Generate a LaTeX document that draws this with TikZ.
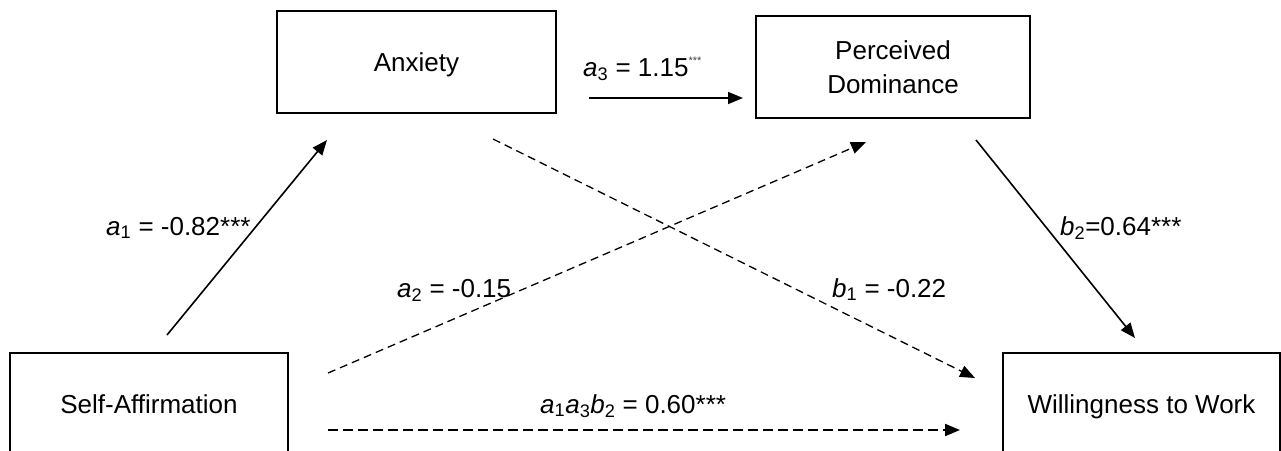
\documentclass[tikz,border=0pt]{standalone}
\usepackage{fontspec}
\setmainfont{Liberation Sans}
\usetikzlibrary{arrows.meta}
\newcommand\vsub[1]{\textsubscript{#1}}
\newcommand\tinystars{{\fontsize{11}{11}\selectfont\raisebox{12pt}{\color{black!75}***}}}
\begin{document}
\begin{tikzpicture}[x=1pt,y=-1pt,
  font=\fontsize{26}{34}\selectfont,
  box/.style={draw, line width=2pt, inner sep=0pt, align=center, minimum height=102pt},
  onebox/.style={box, text height=19pt, text depth=0pt},
  lbl/.style={anchor=base west, inner sep=0pt},
  tip/.style={-{Triangle[length=15pt,width=12pt]}},
  solidarr/.style={tip, line width=1.6pt},
  dasharr/.style={tip, line width=1.3pt, dash pattern=on 8pt off 5pt},
  dashthick/.style={tip, line width=2pt, dash pattern=on 10pt off 5pt}]
\useasboundingbox (0,0) rectangle (1281,450);
\clip (0,0) rectangle (1281,450);
\fill[white] (0,0) rectangle (1281,450);

% boxes
\node[onebox, minimum width=279pt] (anx) at (416.5,62) {Anxiety};
\node[box, minimum width=274pt] (pd) at (893,67) {Perceived\\Dominance};
\node[onebox, minimum width=278pt] (sa) at (149,404) {Self-Affirmation};
\node[onebox, minimum width=277pt] (ww) at (1141.5,404) {Willingness to Work};

% connector end points
\coordinate (a1s) at (167,335);  \coordinate (a1e) at (327,140);
\coordinate (a3s) at (589,98);   \coordinate (a3e) at (743,98);
\coordinate (b1s) at (493,139);  \coordinate (b1e) at (975,378);
\coordinate (a2s) at (328,373);  \coordinate (a2e) at (866,142);
\coordinate (b2s) at (976,140);  \coordinate (b2e) at (1135,338);
\coordinate (ics) at (328,430);  \coordinate (ice) at (960,430);

% connectors
\draw[solidarr] (a1s) -- (a1e);
\draw[solidarr] (a3s) -- (a3e);
\draw[dasharr] (b1s) -- (b1e);
\draw[dasharr] (a2s) -- (a2e);
\draw[solidarr] (b2s) -- (b2e);
\draw[dashthick] (ics) -- (ice);

% labels
\node[lbl] (la1) at (106,235) {\textit{a}\vsub{1} = -0.82***};
\node[lbl] (la3) at (583,76) {\textit{a}\vsub{3} = 1.15\tinystars};
\node[lbl] (la2) at (397,297) {\textit{a}\vsub{2} = -0.15};
\node[lbl] (lb1) at (832,297) {\textit{b}\vsub{1} = -0.22};
\node[lbl] (lb2) at (1060,235) {\textit{b}\vsub{2}=0.64***};
\node[lbl] (lind) at (540,413) {\textit{a}\vsub{1}\textit{a}\vsub{3}\textit{b}\vsub{2} = 0.60***};
\end{tikzpicture}
\end{document}
